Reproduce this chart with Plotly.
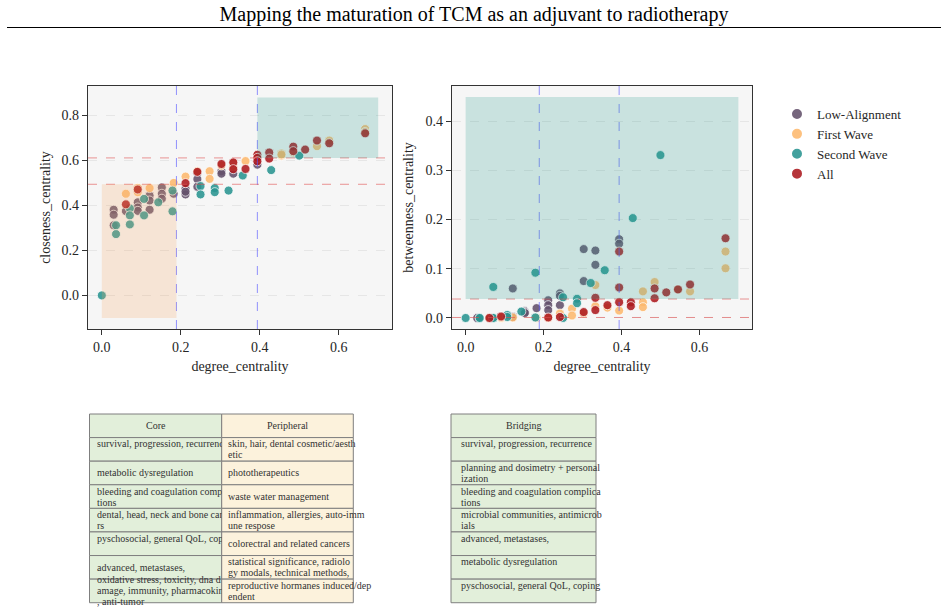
import plotly.graph_objects as go

W, H = 948, 612
SERIF = "Liberation Serif"

# ---------------- data ----------------
series_names = ["Low-Alignment", "First Wave", "Second Wave", "All"]
series_colors = ["#64516c", "#fdb96e", "#2a9591", "#ad1a1f"]

deg_low = [0.030, 0.030, 0.030, 0.061, 0.091, 0.091, 0.091, 0.121, 0.121, 0.121, 0.152, 0.152, 0.152,
           0.182, 0.212, 0.212, 0.212, 0.242, 0.242, 0.242, 0.303, 0.303, 0.333, 0.333, 0.394, 0.394]
clo_low = [0.380, 0.358, 0.311, 0.374, 0.413, 0.390, 0.375, 0.443, 0.421, 0.380, 0.479, 0.451, 0.429,
           0.451, 0.473, 0.448, 0.460, 0.542, 0.516, 0.482, 0.551, 0.540, 0.568, 0.540, 0.598, 0.580]
bet_low = [0.000, 0.000, 0.000, 0.000, 0.003, 0.002, 0.001, 0.060, 0.003, 0.002, 0.014, 0.012, 0.010,
           0.020, 0.036, 0.026, 0.016, 0.050, 0.045, 0.026, 0.140, 0.075, 0.137, 0.108, 0.160, 0.151]

deg_first = [0.061, 0.091, 0.091, 0.121, 0.182, 0.212, 0.242, 0.273, 0.273, 0.303, 0.333, 0.333, 0.364,
             0.394, 0.455, 0.455, 0.455, 0.485, 0.545, 0.576, 0.667, 0.667]
clo_first = [0.451, 0.477, 0.458, 0.476, 0.499, 0.527, 0.551, 0.551, 0.517, 0.576, 0.586, 0.572, 0.596,
             0.612, 0.630, 0.620, 0.625, 0.634, 0.662, 0.687, 0.738, 0.725]
bet_first = [0.000, 0.000, 0.001, 0.001, 0.000, 0.000, 0.009, 0.019, 0.005, 0.009, 0.024, 0.067, 0.021,
             0.015, 0.054, 0.032, 0.022, 0.073, 0.058, 0.054, 0.135, 0.101]

deg_second = [0.000, 0.036, 0.036, 0.071, 0.071, 0.071, 0.107, 0.107, 0.143, 0.179, 0.179, 0.250, 0.250,
              0.286, 0.286, 0.321, 0.357, 0.429, 0.500]
clo_second = [0.000, 0.311, 0.272, 0.386, 0.355, 0.315, 0.428, 0.355, 0.413, 0.465, 0.373, 0.485, 0.448,
              0.476, 0.458, 0.465, 0.532, 0.556, 0.620]
bet_second = [0.000, 0.000, 0.000, 0.063, 0.000, 0.000, 0.006, 0.002, 0.013, 0.092, 0.001, 0.042, 0.000,
              0.039, 0.030, 0.071, 0.097, 0.203, 0.331]

deg_all = [0.061, 0.091, 0.212, 0.242, 0.303, 0.333, 0.333, 0.364, 0.394, 0.394, 0.394, 0.424, 0.424,
           0.485, 0.485, 0.515, 0.545, 0.576, 0.667]
clo_all = [0.404, 0.470, 0.498, 0.548, 0.583, 0.590, 0.560, 0.561, 0.624, 0.610, 0.595, 0.634, 0.607,
           0.660, 0.640, 0.647, 0.687, 0.675, 0.719]
bet_all = [0.000, 0.003, 0.001, 0.002, 0.012, 0.041, 0.016, 0.026, 0.135, 0.062, 0.032, 0.032, 0.024,
           0.060, 0.040, 0.052, 0.058, 0.068, 0.162]

# thresholds / highlighted regions
deg_thresholds = [0.189, 0.394]
clo_thresholds = [0.493, 0.610]
bet_thresholds = [0.001, 0.0385]
clo_region_low = [0.0, 0.189, -0.10, 0.493]     # x0, x1, y0, y1
clo_region_high = [0.394, 0.70, 0.610, 0.878]
bet_region_high = [0.0, 0.70, 0.0385, 0.449]

x_ticks = [0.0, 0.2, 0.4, 0.6]
clo_ticks = [0.0, 0.2, 0.4, 0.6, 0.8]
bet_ticks = [0.0, 0.1, 0.2, 0.3, 0.4]

title_text = "Mapping the maturation of TCM as an adjuvant to radiotherapy"

table_headers = ["Core", "Peripheral", "Bridging"]
core_cells = [
    "survival, progression, recurrence\n",
    "metabolic dysregulation",
    "bleeding and coagulation complica\ntions",
    "dental, head, neck and bone cance\nrs",
    "pyschosocial, general QoL, coping\n",
    "advanced, metastases, ",
    "oxidative stress, toxicity, dna d\namage, immunity, pharmacokinetics\n, anti-tumor",
]
peripheral_cells = [
    "skin, hair, dental cosmetic/aesth\netic",
    "phototherapeutics",
    "waste water management",
    "inflammation, allergies, auto-imm\nune respose",
    "colorectral and related cancers",
    "statistical significance, radiolo\ngy modals, technical methods,",
    "reproductive hormanes induced/dep\nendent",
]
bridging_cells = [
    "survival, progression, recurrence\n",
    "planning and dosimetry + personal\nization",
    "bleeding and coagulation complica\ntions",
    "microbial communities, antimicrob\nials",
    "advanced, metastases, \n",
    "metabolic dysregulation\n",
    "pyschosocial, general QoL, coping\n",
]

# ---------------- figure ----------------
fig = go.Figure()
all_series = [
    (deg_low, clo_low, bet_low),
    (deg_first, clo_first, bet_first),
    (deg_second, clo_second, bet_second),
    (deg_all, clo_all, bet_all),
]
for name, col, (d, c, b) in zip(series_names, series_colors, all_series):
    mk = dict(color=col, size=9, opacity=0.88, line=dict(color="white", width=0.8))
    fig.add_trace(go.Scatter(x=d, y=c, mode="markers", name=name, legendgroup=name,
                             marker=mk, xaxis="x", yaxis="y"))
    fig.add_trace(go.Scatter(x=d, y=b, mode="markers", name=name, legendgroup=name,
                             marker=mk, xaxis="x2", yaxis="y2", showlegend=False))

shapes = []
RED = "rgba(224,80,80,0.6)"
BLUE = "rgba(90,90,255,0.65)"
for xr, yr, yth in (("x", "y", clo_thresholds), ("x2", "y2", bet_thresholds)):
    for v in deg_thresholds:
        shapes.append(dict(type="line", xref=xr, yref=yr + " domain", x0=v, x1=v, y0=0, y1=1,
                           line=dict(color=BLUE, width=1, dash="dash"), layer="above"))
    for v in yth:
        shapes.append(dict(type="line", xref=xr + " domain", yref=yr, x0=0, x1=1, y0=v, y1=v,
                           line=dict(color=RED, width=1, dash="dash"), layer="above"))

def region(xr, yr, r, color):
    return dict(type="rect", xref=xr, yref=yr, x0=r[0], x1=r[1], y0=r[2], y1=r[3],
                fillcolor=color, opacity=0.22, line=dict(width=0), layer="above")

shapes.append(region("x", "y", clo_region_low, "#f4a261"))
shapes.append(region("x", "y", clo_region_high, "#2a9d8f"))
shapes.append(region("x2", "y2", bet_region_high, "#2a9d8f"))

# title underline
shapes.append(dict(type="line", xref="paper", yref="paper", x0=7 / W, x1=941 / W,
                   y0=1 - 27.5 / H, y1=1 - 27.5 / H, line=dict(color="black", width=1)))

# ---------------- tables ----------------
annotations = []
ROW_TOP = 414.0
ROW_H = 23.59
LINE_SP = 11.0
CELL_FONT = dict(family=SERIF, size=10, color="#333333")
columns = [
    dict(header=table_headers[0], cells=core_cells, left=89.5, width=132.2, fill="#e2efda", pad=7.5, clip=True),
    dict(header=table_headers[1], cells=peripheral_cells, left=221.7, width=131.6, fill="#fcf2dc", pad=6.6, clip=False),
    dict(header=table_headers[2], cells=bridging_cells, left=451.0, width=145.0, fill="#e2efda", pad=10.0, clip=False),
]
n_rows = len(core_cells) + 1
for r in range(n_rows):
    top = ROW_TOP + r * ROW_H
    bot = top + ROW_H
    cy = (top + bot) / 2
    for col in columns:
        shapes.append(dict(type="rect", xref="paper", yref="paper",
                           x0=col["left"] / W, x1=(col["left"] + col["width"]) / W,
                           y0=1 - top / H, y1=1 - bot / H, fillcolor=col["fill"],
                           line=dict(color="#7f7f7f", width=1), layer="above"))
        if r == 0:
            annotations.append(dict(text=col["header"], x=(col["left"] + col["width"] / 2) / W,
                                    y=1 - cy / H, xref="paper", yref="paper", xanchor="center",
                                    yanchor="middle", showarrow=False, font=CELL_FONT,
                                    borderpad=0, borderwidth=0))
            continue
        lines = col["cells"][r - 1].split("\n")
        n = len(lines)
        for i, line in enumerate(lines):
            if not line.strip():
                continue
            ly = cy + (i - (n - 1) / 2) * LINE_SP
            a = dict(text=line, x=(col["left"] + col["pad"]) / W, y=1 - ly / H,
                     xref="paper", yref="paper", xanchor="left", yanchor="middle",
                     align="left", showarrow=False, font=CELL_FONT, borderpad=0, borderwidth=0)
            if col["clip"]:
                a["width"] = col["width"] - col["pad"]
            annotations.append(a)

axis_font = dict(family=SERIF, size=14, color="#262626")
common = dict(showline=True, linecolor="#333333", linewidth=1.2, mirror=True, ticks="outside",
              ticklen=5, tickwidth=1.2, tickcolor="#333333", tickfont=axis_font, zeroline=False,
              tickformat=".1f")
ygrid = dict(showgrid=True, gridcolor="#e6e6e6", gridwidth=0.7, griddash="dash")

fig.update_layout(
    width=W, height=H, autosize=False,
    margin=dict(l=0, r=0, t=0, b=0),
    paper_bgcolor="white", plot_bgcolor="#f6f6f6",
    font=dict(family=SERIF, color="#262626"),
    title=dict(text=title_text, x=0.5, xanchor="center", y=1 - 14 / H, yanchor="middle",
               font=dict(family=SERIF, size=20, color="black")),
    xaxis=dict(domain=[88 / W, 392 / W], range=[-0.035, 0.735], tickvals=x_ticks, showgrid=False,
               anchor="y", title=dict(text="degree_centrality", font=axis_font, standoff=7), **common),
    yaxis=dict(domain=[1 - 329 / H, 1 - 86 / H], range=[-0.149, 0.929], tickvals=clo_ticks,
               anchor="x", title=dict(text="closeness_centrality", font=axis_font, standoff=7),
               **ygrid, **common),
    xaxis2=dict(domain=[452 / W, 752 / W], range=[-0.035, 0.735], tickvals=x_ticks, showgrid=False,
                anchor="y2", title=dict(text="degree_centrality", font=axis_font, standoff=7), **common),
    yaxis2=dict(domain=[1 - 329 / H, 1 - 86 / H], range=[-0.0224, 0.4714], tickvals=bet_ticks,
                anchor="x2", title=dict(text="betweenness_centrality", font=axis_font, standoff=8),
                **ygrid, **common),
    legend=dict(x=777 / W, y=1 - 99 / H, xanchor="left", yanchor="top",
                font=dict(family=SERIF, size=13, color="#262626"), bgcolor="rgba(0,0,0,0)",
                itemsizing="constant", tracegroupgap=0),
    shapes=shapes,
    annotations=annotations,
)

fig.write_html("out.html")
